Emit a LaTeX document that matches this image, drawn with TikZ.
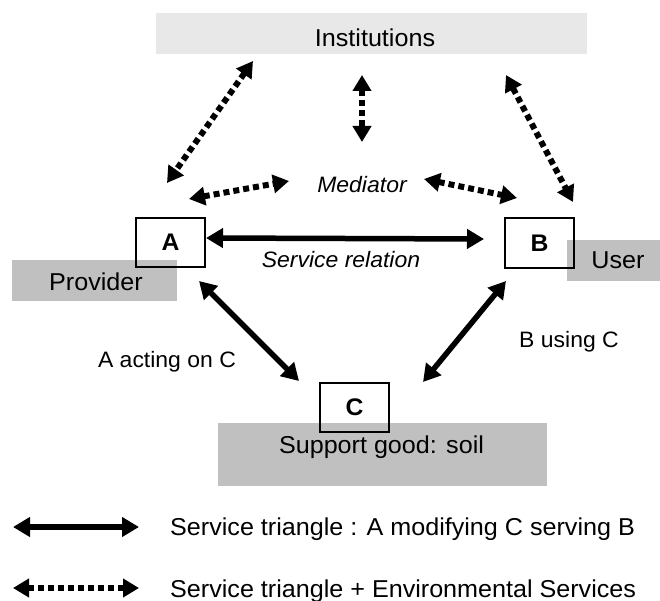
\documentclass[tikz,border=0pt]{standalone}
\usepackage{fontspec}
\setmainfont{Liberation Sans}[FakeStretch=1.03]
\usetikzlibrary{arrows.meta}
\definecolor{instgray}{RGB}{232,232,232}
\definecolor{boxgray}{RGB}{192,192,192}
\tikzset{
  bigtxt/.style={font=\fontsize{24.4}{29}\selectfont, inner sep=0pt},
  smalltxt/.style={font=\fontsize{22.3}{27}\selectfont, inner sep=0pt},
  italtxt/.style={font=\fontsize{22.3}{27}\selectfont\itshape, inner sep=0pt},
  graybox/.style={rectangle, fill=boxgray, draw=none, inner sep=0pt, outer sep=0pt},
  instbox/.style={rectangle, fill=instgray, draw=none, inner sep=0pt, outer sep=0pt},
  letterbox/.style={rectangle, draw=black, line width=1.5pt, fill=none, inner sep=0pt, outer sep=0pt,
    minimum width=69pt, minimum height=49pt, font=\fontsize{24}{29}\selectfont\bfseries},
  solidarr/.style={line width=5.5pt, {Triangle[length=17pt,width=19pt]}-{Triangle[length=17pt,width=19pt]}},
  dotarr/.style={line width=6pt, dash pattern=on 6pt off 4pt,
    {Triangle[length=16pt,width=18pt]}-{Triangle[length=16pt,width=18pt]}},
}
\begin{document}
\begin{tikzpicture}[x=1pt,y=-1pt]
\useasboundingbox (0,0) rectangle (660,601);

% background boxes
\node[instbox, minimum width=431pt, minimum height=41pt] (inst) at (371.5,33.5) {};
\node[graybox, minimum width=165pt, minimum height=41pt] (prov) at (94.5,280.5) {};
\node[graybox, minimum width=102pt, minimum height=41pt] (user) at (618,260.5) {};
\node[graybox, minimum width=329pt, minimum height=63pt] (soil) at (382.5,454.5) {};

% texts of background boxes
\node[bigtxt, anchor=base] (insttxt) at (375,47) {Institutions};
\node[bigtxt, anchor=base] (provtxt) at (96,290) {Provider};
\node[bigtxt, anchor=base] (usertxt) at (618,269) {User};
\node[bigtxt, anchor=base] (soiltxt) at (381.5,453) {Support good: soil};

% actor boxes
\node[letterbox] (A) at (170.5,242.5) {A};
\node[letterbox, minimum height=50pt] (B) at (539.5,243) {B};
\node[letterbox] (C) at (354.5,407.5) {C};

% mediator and labels
\node[italtxt, anchor=base] (med) at (362,193) {Mediator};
\node[italtxt, anchor=base] (srel) at (341,267) {Service relation};
\node[smalltxt, anchor=base] (actC) at (167,367) {A acting on C};
\node[smalltxt, anchor=base] (useC) at (569,347) {B using C};

% service triangle
\draw[solidarr] ([shift={(1,-4.5)}]A.east) -- ([shift={(-21,-4)}]B.west);
\draw[solidarr] ([shift={(-6,14)}]A.south east) -- ([shift={(-21,-2)}]C.north west);
\draw[solidarr] ([shift={(1,13)}]B.south west) -- ([shift={(34,-1)}]C.north east);

% environmental services
\draw[dotarr] ([shift={(97,7)}]inst.south west) -- ([shift={(31,-35)}]A.north west);
\draw[dotarr] ([shift={(-9.5,21)}]inst.south) -- ([shift={(0,-51)}]med.base);
\draw[dotarr] ([shift={(-81,21)}]inst.south east) -- ([shift={(-1,-16)}]B.north east);
\draw[dotarr] ([shift={(-16,-19)}]A.north east) -- ([shift={(-73,-12)}]med.base);
\draw[dotarr] ([shift={(62,-14)}]med.base) -- ([shift={(12,-20)}]B.north west);

% legend
\coordinate (l1a) at (13,527);
\coordinate (l1b) at (139,527);
\coordinate (l2a) at (13,588);
\coordinate (l2b) at (139,588);
\draw[solidarr] (l1a) -- (l1b);
\draw[dotarr] (l2a) -- (l2b);
\node[bigtxt, anchor=base west] (leg1) at (170,535) {Service triangle : A modifying C serving B};
\node[bigtxt, anchor=base west] (leg2) at (170,597) {Service triangle + Environmental Services};
\end{tikzpicture}
\end{document}
